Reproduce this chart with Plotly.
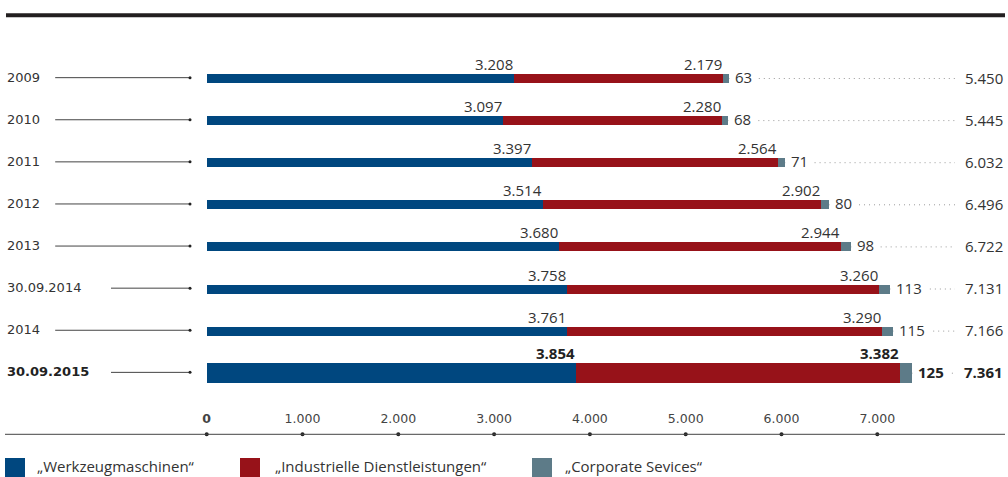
import plotly.graph_objects as go

# ---------------- data ----------------
categories = ["2009", "2010", "2011", "2012", "2013", "30.09.2014", "2014", "30.09.2015"]
werkzeug = [3208, 3097, 3397, 3514, 3680, 3758, 3761, 3854]
dienst = [2179, 2280, 2564, 2902, 2944, 3260, 3290, 3382]
corporate = [63, 68, 71, 80, 98, 113, 115, 125]
totals = [5450, 5445, 6032, 6496, 6722, 7131, 7166, 7361]
series_names = ["„Werkzeugmaschinen“", "„Industrielle Dienstleistungen“", "„Corporate Sevices“"]
tick_vals = [0, 1000, 2000, 3000, 4000, 5000, 6000, 7000]
highlight = "30.09.2015"

# ---------------- style ----------------
W, H = 1008, 477
C_BLUE = "#00477f"
C_RED = "#971219"
C_GREY = "#5d7b88"
TXT = "#333333"
VAL_FONT = "Open Sans"
X0_PX = 206.7        # pixel of value 0
SCALE = 0.0958       # px per unit
ROW0 = 78.5          # pixel centre of first row
ROWH = 42.1          # row pitch in px
AXIS_PX = 434.3

def px2x(p):
    return (p - X0_PX) / SCALE

def py2y(p):
    return (p - ROW0) / ROWH

def ppx(p):
    return p / W

def ppy(p):
    return 1 - p / H

def fmt(v):
    return f"{v:,}".replace(",", ".")

n = len(categories)
ys = list(range(n))
bar_px = [19.5 if c == highlight else 9.0 for c in categories]
widths = [b / ROWH for b in bar_px]

fig = go.Figure()
for vals, name, col in [(werkzeug, series_names[0], C_BLUE),
                        (dienst, series_names[1], C_RED),
                        (corporate, series_names[2], C_GREY)]:
    fig.add_trace(go.Bar(y=ys, x=vals, orientation="h", name=name,
                         marker=dict(color=col, line=dict(width=0)),
                         width=widths, showlegend=False, hoverinfo="x"))

# tick dots on axis line
fig.add_trace(go.Scatter(x=tick_vals, y=[py2y(AXIS_PX)] * len(tick_vals), mode="markers",
                         marker=dict(color="#222222", size=4), cliponaxis=False,
                         showlegend=False, hoverinfo="skip"))

shapes = []
annotations = []

# top rule
shapes.append(dict(type="line", xref="paper", yref="paper", x0=ppx(6), x1=ppx(1005),
                   y0=ppy(15.3), y1=ppy(15.3), line=dict(color="#231f20", width=4)))
# axis line
shapes.append(dict(type="line", xref="paper", yref="paper", x0=ppx(5), x1=ppx(1005),
                   y0=ppy(AXIS_PX), y1=ppy(AXIS_PX), line=dict(color="#444444", width=1)))

for i, cat in enumerate(categories):
    bold = cat == highlight
    wrap = (lambda s: f"<b>{s}</b>") if bold else (lambda s: s)
    col = "#222222" if bold else TXT
    half = bar_px[i] / 2
    # left category label
    annotations.append(dict(x=ppx(5), xref="paper", y=i, yref="y", xanchor="left",
                            yanchor="middle", yshift=1.5, showarrow=False, text=wrap(cat),
                            font=dict(family="DejaVu Sans", size=13, color=col)))
    # leader line + dot
    start = 18 + 9.3 * len(cat)
    shapes.append(dict(type="line", xref="paper", yref="y", x0=ppx(start), x1=ppx(190),
                       y0=i - 0.02, y1=i - 0.02, line=dict(color="#444444", width=1)))
    shapes.append(dict(type="circle", xref="paper", yref="y", x0=ppx(188.5), x1=ppx(191.5),
                       y0=i - 0.02 - 1.5 / ROWH, y1=i - 0.02 + 1.5 / ROWH,
                       fillcolor="#222222", line=dict(width=0)))
    # dotted line to total
    shapes.append(dict(type="line", xref="x", yref="y", x0=totals[i], x1=px2x(955),
                       y0=i, y1=i, layer="below",
                       line=dict(color="#9a9a9a", width=1, dash="1px,4px")))
    # value labels above bars
    annotations.append(dict(x=werkzeug[i], y=i, xref="x", yref="y", xanchor="right",
                            yanchor="middle", xshift=1, yshift=half + 10, showarrow=False,
                            text=wrap(fmt(werkzeug[i])),
                            font=dict(family=VAL_FONT, size=15, color=col)))
    annotations.append(dict(x=werkzeug[i] + dienst[i], y=i, xref="x", yref="y",
                            xanchor="right", yanchor="middle", xshift=1, yshift=half + 10,
                            showarrow=False, text=wrap(fmt(dienst[i])),
                            font=dict(family=VAL_FONT, size=15, color=col)))
    # corporate label to right of bar (white box hides the dots beneath)
    annotations.append(dict(x=totals[i], y=i, xref="x", yref="y", xanchor="left",
                            yanchor="middle", xshift=0, yshift=1.5, showarrow=False,
                            text=wrap(fmt(corporate[i])), bgcolor="white", borderpad=5,
                            font=dict(family=VAL_FONT, size=15, color=col)))
    # total on the right
    annotations.append(dict(x=ppx(1005), xref="paper", y=i, yref="y", xanchor="right",
                            yanchor="middle", yshift=1, showarrow=False, text=wrap(fmt(totals[i])),
                            font=dict(family=VAL_FONT, size=15, color=col)))

# manual legend
legend_px = [(5, 35), (240, 273), (532, 563)]
for (sq, tx), name, colr in zip(legend_px, series_names, [C_BLUE, C_RED, C_GREY]):
    shapes.append(dict(type="rect", xref="paper", yref="paper", x0=ppx(sq), x1=ppx(sq + 20),
                       y0=ppy(458), y1=ppy(480), fillcolor=colr, line=dict(width=0)))
    annotations.append(dict(x=ppx(tx), y=ppy(466), xref="paper", yref="paper",
                            xanchor="left", yanchor="middle", showarrow=False, text=name,
                            font=dict(family=VAL_FONT, size=15, color=TXT)))

tick_text = ["<b>0</b>" if v == 0 else fmt(v) for v in tick_vals]

fig.update_layout(
    width=W, height=H, margin=dict(l=0, r=0, t=0, b=0, pad=0),
    paper_bgcolor="white", plot_bgcolor="white",
    barmode="stack", bargap=0,
    shapes=shapes, annotations=annotations, showlegend=False,
    xaxis=dict(range=[px2x(0), px2x(W)], domain=[0, 1], anchor="free",
               position=ppy(AXIS_PX), side="top", showgrid=False, zeroline=False,
               showline=False, ticks="", tickvals=tick_vals, ticktext=tick_text,
               ticklabelstandoff=9,
               tickfont=dict(family="DejaVu Sans", size=12.5, color="#444444")),
    yaxis=dict(range=[py2y(H), py2y(0)], domain=[0, 1], visible=False,
               showgrid=False, zeroline=False),
)

fig.write_html("out.html", config={"displayModeBar": False},
               post_script="document.body.style.margin='0';document.body.style.overflow='hidden';")
